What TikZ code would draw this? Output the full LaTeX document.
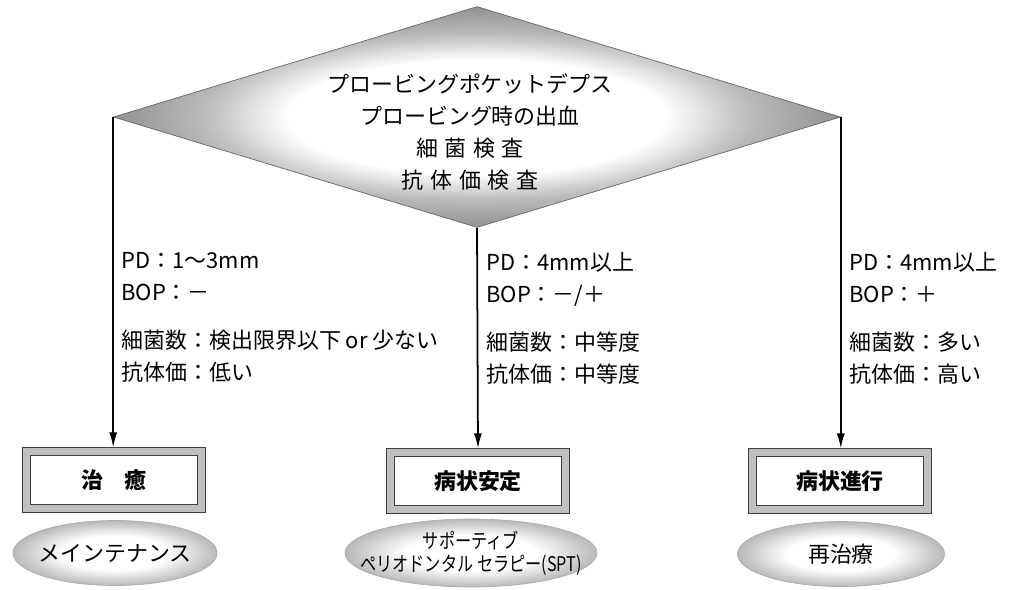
\documentclass[tikz,border=0pt]{standalone}
\usepackage{fontspec}
\setmainfont{Noto Sans CJK JP}
\usetikzlibrary{shapes.geometric,arrows.meta}

\pgfdeclareradialshading{diashade}{\pgfpointorigin}{color(0bp)=(white); color(13bp)=(white); color(19bp)=(gray!55); color(25bp)=(gray!85); color(50bp)=(gray!85)}
\pgfdeclareradialshading{ovalshade}{\pgfpointorigin}{color(0bp)=(white); color(13bp)=(white); color(25bp)=(gray!55); color(50bp)=(gray!55)}

\begin{document}
\begin{tikzpicture}[x=0.02cm, y=-0.02cm,
    every node/.style={font=\fontsize{12.5}{18.2}\selectfont},
    arr/.style={line width=1pt, -{Latex[length=3mm,width=1.6mm]}, shorten >=2pt},
    result/.style={rectangle, draw=gray!50!black, double=gray!50, double distance=3.5pt,
        line width=.6pt, fill=white, minimum width=3.5cm, minimum height=1.14cm,
        font=\fontsize{12.5}{15}\selectfont\bfseries},
    care/.style={ellipse, draw=gray!65, shade, shading=ovalshade, minimum height=1.3cm,
        inner xsep=-16pt, inner ysep=0pt, align=center},
    cond/.style={anchor=north west, align=left, inner sep=0pt}]
    \useasboundingbox (0,0) rectangle (1013,589);

    % examination
    \node[diamond, aspect=3.3, minimum width=14.54cm, minimum height=4.42cm, inner sep=0pt,
        draw=gray!80!black, shade, shading=diashade] (exam) at (477,117) {};
    \node[align=center] (examtext) at (470,132)
        {プロービングポケットデプス\\プロービング時の出血\\細\hspace{.3em}菌\hspace{.3em}検\hspace{.3em}査\\抗\hspace{.3em}体\hspace{.3em}価\hspace{.3em}検\hspace{.3em}査};

    % findings
    \node[cond] (cond1) at (121,252) {PD：1〜3mm\\BOP：－\\[9pt]細菌数：検出限界以下 or 少ない\\抗体価：低い};
    \node[cond] (cond2) at (486,252) {PD：4mm以上\\BOP：－/＋\\[9pt]細菌数：中等度\\抗体価：中等度};
    \node[cond] (cond3) at (849,252) {PD：4mm以上\\BOP：＋\\[9pt]細菌数：多い\\抗体価：高い};

    % results
    \node[result] (cure) at (114,480) {治\hspace{1em}癒};
    \node[result] (stable) at (478,481) {病状安定};
    \node[result] (worse) at (840,481) {病状進行};

    % follow-up
    \node[care, minimum width=4.08cm] (maint) at (115,553) {メインテナンス};
    \node[care, minimum width=5.04cm, minimum height=1.36cm, inner xsep=-22pt,
        font=\fontsize{11.5}{13}\selectfont] (spt) at (471,553)
        {\scalebox{.8}[1]{サポーティブ}\\\scalebox{.8}[1]{ペリオドンタル セラピー(SPT)}};
    \node[care, minimum width=4.14cm] (retreat) at (841,554) {再治療};

    \draw[arr] (exam.west) -- (exam.west |- cure.north);
    \draw[arr] (exam.south) -- (stable.north);
    \draw[arr] (exam.east) -- (exam.east |- worse.north);
\end{tikzpicture}
\end{document}
